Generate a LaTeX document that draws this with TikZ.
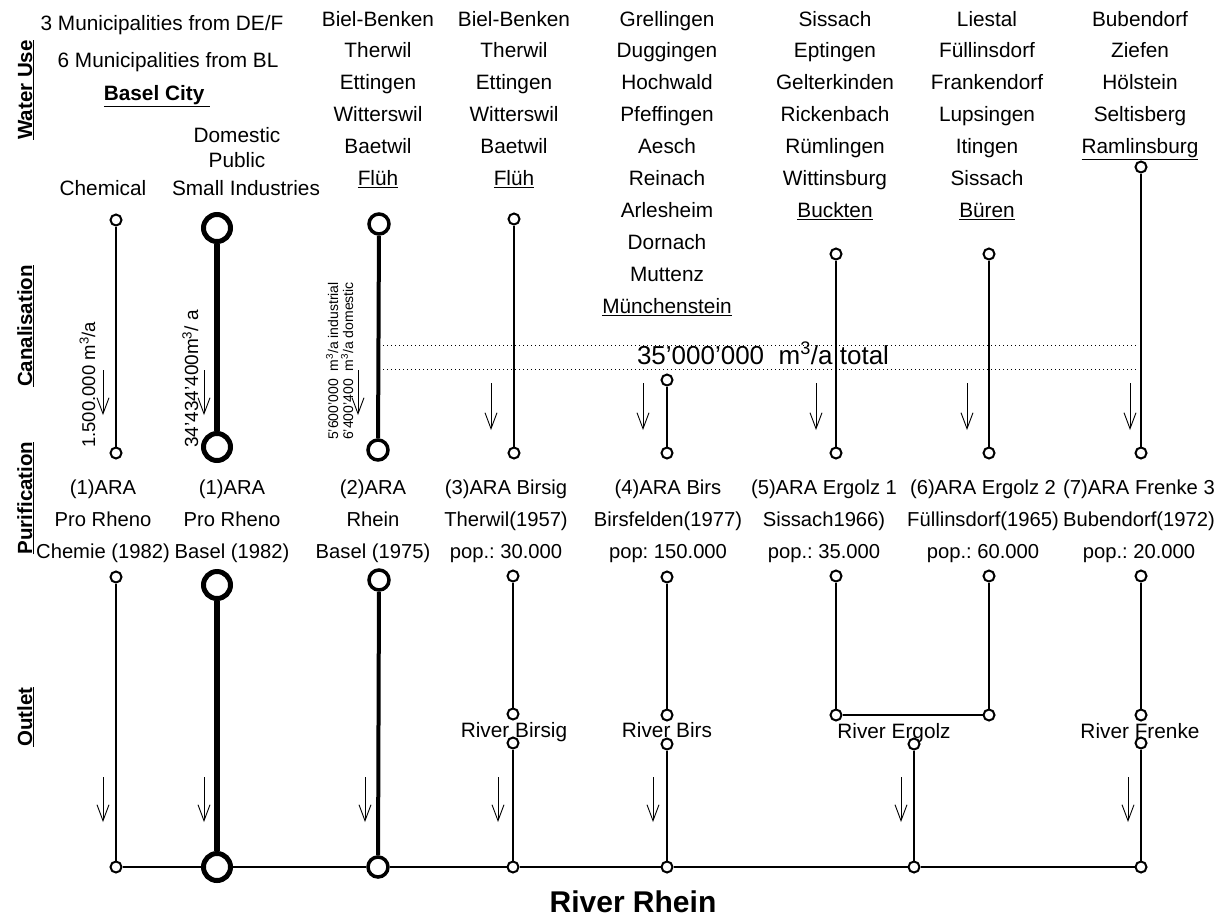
\documentclass[tikz,border=0pt]{standalone}
\usepackage{fontspec}
\setmainfont{Liberation Sans}
\usetikzlibrary{arrows.meta,positioning}

\begin{document}
\frenchspacing
\begin{tikzpicture}[x=1pt, y=-1pt, font=\fontsize{20.8}{24}\selectfont,
 txt/.style={anchor=base, inner sep=0pt},
 hd/.style={anchor=base, rotate=90, inner sep=0pt, font=\fontsize{20.5}{24}\selectfont\bfseries},
 amt/.style={anchor=base west, rotate=90, inner sep=0pt},
 jn/.style={circle, draw, fill=white, line width=2pt, minimum size=11pt, inner sep=0pt},
 jnbig/.style={jn, line width=5pt, minimum size=27pt},
 jnmid/.style={jn, line width=3.5pt, minimum size=20pt},
 pipe/.style={line width=2.4pt},
 pipebig/.style={line width=5.5pt},
 pipemid/.style={line width=4pt},
 flow/.style={-{Straight Barb[length=16pt,width=12pt]}, line width=0.9pt},
 lvl/.style={line width=0.8pt, dash pattern=on 1pt off 3pt}]
 \useasboundingbox (0,0) rectangle (1214,919);

 % --- row headers ---
 \node[hd] (hwater) at (32,90) {\underline{Water Use}};
 \node[hd] (hcanal) at (32,326) {\underline{Canalisation}};
 \node[hd] (hpuri) at (32,498) {\underline{Purification}};
 \node[hd] (hout) at (32,717) {\underline{Outlet}};

 % --- water use ---
 \node[txt] (def) at (162,30) {3 Municipalities from DE/F};
 \node[txt] (bl) at (168,67) {6 Municipalities from BL};
 \node[txt, font=\fontsize{20.8}{24}\selectfont\bfseries] (bs) at (157,100) {\underline{Basel City\ }};
 \node[txt] (dom) at (237,142) {Domestic};
 \node[txt] (pub) at (237,167) {Public};
 \node[txt] (ind) at (246,195) {Small Industries};
 \node[txt] (chem) at (103,195) {Chemical};

 \foreach \t [count=\i] in {Biel-Benken,Therwil,Ettingen,Witterswil,Baetwil,\underline{Flüh}}
  \node[txt] (tc3\i) at (378,{26+31.9*(\i-1)}) {\t};
 \foreach \t [count=\i] in {Biel-Benken,Therwil,Ettingen,Witterswil,Baetwil,\underline{Flüh}}
  \node[txt] (tc4\i) at (514,{26+31.9*(\i-1)}) {\t};
 \foreach \t [count=\i] in {Grellingen,Duggingen,Hochwald,Pfeffingen,Aesch,Reinach,Arlesheim,Dornach,Muttenz,\underline{Münchenstein}}
  \node[txt] (tc5\i) at (667,{26+31.9*(\i-1)}) {\t};
 \foreach \t [count=\i] in {Sissach,Eptingen,Gelterkinden,Rickenbach,Rümlingen,Wittinsburg,\underline{Buckten}}
  \node[txt] (tc6\i) at (835,{26+31.9*(\i-1)}) {\t};
 \foreach \t [count=\i] in {Liestal,Füllinsdorf,Frankendorf,Lupsingen,Itingen,Sissach,\underline{Büren}}
  \node[txt] (tc7\i) at (987,{26+31.9*(\i-1)}) {\t};
 \foreach \t [count=\i] in {Bubendorf,Ziefen,Hölstein,Seltisberg,\underline{Ramlinsburg}}
  \node[txt] (tc8\i) at (1140,{26+31.9*(\i-1)}) {\t};

 % --- canalisation ---
 \draw[lvl] (383,345) -- (1138,345);
 \draw[lvl] (383,369) -- (1138,369);
 \node[txt, font=\fontsize{26}{30}\selectfont] (total) at (763,364) {35’000’000\ \ m\textsuperscript{3}/a total};

 \node[amt, font=\fontsize{18.5}{22}\selectfont] (q1) at (95,448) {1.500.000 m\textsuperscript{3}/a};
 \node[amt, font=\fontsize{19}{22}\selectfont] (q2) at (198,448) {34’434’400m\textsuperscript{3}/ a};
 \node[amt, font=\fontsize{14}{16}\selectfont] (q3a) at (338,440) {5’600’000\ \ m\textsuperscript{3}/a industrial};
 \node[amt, font=\fontsize{14}{16}\selectfont] (q3b) at (353,440) {6’400’400\ \ m\textsuperscript{3}/a domestic};

 \foreach \x in {103,204,358} \draw[flow] (\x,370) -- ++(0,45);
 \foreach \x in {491,643,816,967,1130} \draw[flow] (\x,383) -- ++(0,47);

 \node[jn] (k1t) at (116,220) {};
 \node[jnbig] (k2t) at (217,228) {};
 \node[jnmid] (k3t) at (379,224) {};
 \node[jn] (k4t) at (514,219) {};
 \node[jn] (k5t) at (667,380) {};
 \node[jn] (k6t) at (836,254) {};
 \node[jn] (k7t) at (989,254) {};
 \node[jn] (k8t) at (1141,167) {};
 \node[jn] (k1b) at (116,453) {};
 \node[jnbig] (k2b) at (217,447) {};
 \node[jnmid] (k3b) at (378,450) {};
 \node[jn] (k4b) at (514,453) {};
 \node[jn] (k5b) at (667,453) {};
 \node[jn] (k6b) at (836,453) {};
 \node[jn] (k7b) at (989,453) {};
 \node[jn] (k8b) at (1141,453) {};

 \draw[pipe] (k1t) -- (k1b);
 \draw[pipebig] (k2t) -- (k2b);
 \draw[pipemid] (k3t) -- (k3b);
 \foreach \i in {4,...,8} \draw[pipe] (k\i t) -- (k\i b);

 % --- purification ---
 \foreach \x/\a/\b/\c in {103/(1)ARA/Pro Rheno/Chemie (1982), 232/(1)ARA/Pro Rheno/Basel (1982),
  373/(2)ARA/Rhein/Basel (1975), 506/(3)ARA Birsig/Therwil(1957)/pop.: 30.000,
  668/(4)ARA Birs/Birsfelden(1977)/pop: 150.000, 824/(5)ARA Ergolz 1/Sissach1966)/pop.: 35.000,
  983/(6)ARA Ergolz 2/Füllinsdorf(1965)/pop.: 60.000, 1139/(7)ARA Frenke 3/Bubendorf(1972)/pop.: 20.000}
 {
  \node[txt, font=\fontsize{20.2}{24}\selectfont] at (\x,494) {\a};
  \node[txt, font=\fontsize{20.2}{24}\selectfont] at (\x,526) {\b};
  \node[txt, font=\fontsize{20.2}{24}\selectfont] at (\x,558) {\c};
 }

 % --- outlet ---
 \node[txt] (rbirsig) at (514,737) {River Birsig};
 \node[txt] (rbirs) at (667,737) {River Birs};
 \node[txt] (rergolz) at (894,738) {River Ergolz};
 \node[txt] (rfrenke) at (1140,738) {River Frenke};
 \node[txt, font=\fontsize{30}{34}\selectfont\bfseries] (rhein) at (633,912) {River Rhein};

 \foreach \x in {103,204,365,498,653,901,1128} \draw[flow] (\x,777) -- ++(0,45);

 \node[jn] (o1) at (116,577) {};
 \node[jnbig] (o2) at (217,585) {};
 \node[jnmid] (o3) at (379,580) {};
 \node[jn] (o4) at (513,576) {};
 \node[jn] (o5) at (667,577) {};
 \node[jn] (o6) at (836,576) {};
 \node[jn] (o7) at (989,576) {};
 \node[jn] (o8) at (1141,576) {};
 \node[jn] (m4) at (513,714) {};
 \node[jn] (m5) at (667,715) {};
 \node[jn] (m6) at (836,715) {};
 \node[jn] (m7) at (989,715) {};
 \node[jn] (m8) at (1141,715) {};
 \node[jn] (n4) at (513,743) {};
 \node[jn] (n5) at (667,744) {};
 \node[jn] (n6) at (914,744) {};
 \node[jn] (n8) at (1141,743) {};
 \node[jn] (r1) at (116,867) {};
 \node[jnbig] (r2) at (217,867) {};
 \node[jnmid] (r3) at (378,867) {};
 \node[jn] (r4) at (513,867) {};
 \node[jn] (r5) at (667,867) {};
 \node[jn] (r6) at (914,867) {};
 \node[jn] (r8) at (1141,867) {};

 \draw[pipe] (o1) -- (r1);
 \draw[pipebig] (o2) -- (r2);
 \draw[pipemid] (o3) -- (r3);
 \draw[pipe] (o4) -- (m4);
 \draw[pipe] (n4) -- (r4);
 \draw[pipe] (o5) -- (m5);
 \draw[pipe] (n5) -- (r5);
 \draw[pipe] (o6) -- (m6) -- (m7) -- (o7);
 \draw[pipe] (n6) -- (r6);
 \draw[pipe] (o8) -- (m8);
 \draw[pipe] (n8) -- (r8);
 \draw[pipe] (r1) -- (r2) -- (r3) -- (r4) -- (r5) -- (r6) -- (r8);
\end{tikzpicture}
\end{document}
